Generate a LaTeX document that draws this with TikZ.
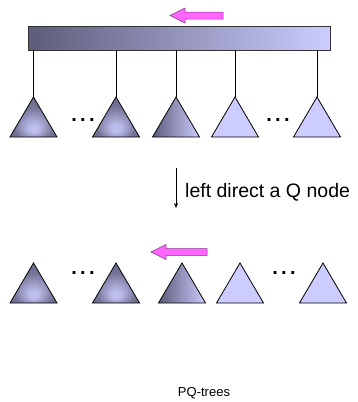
\documentclass[tikz,border=0pt]{standalone}
\usepackage{fontspec}
\setmainfont{Liberation Sans}
\usetikzlibrary{arrows.meta, positioning, calc}
\definecolor{qDark}{RGB}{92,92,122}
\definecolor{qLight}{RGB}{204,204,255}
\definecolor{qPink}{RGB}{255,102,255}
\definecolor{qPinkEdge}{RGB}{140,50,140}
% light centre around the centroid, darker towards the sides
\pgfdeclareradialshading{pyramid}{\pgfpoint{0bp}{-16bp}}{%
	color(0bp)=(qLight!90!qDark); color(5bp)=(qLight!85!qDark); color(22bp)=(qDark!80!qLight); color(50bp)=(qDark)}
\tikzset{
	qbar/.style     ={rectangle, draw=black!80, line width=0.7pt, left color=qDark, right color=qLight, minimum width=302pt, minimum height=24pt, inner sep=0pt},
	branch/.style   ={draw=black, line width=0.7pt},
	tri/.style      ={draw=black, line width=0.8pt, line join=miter},
	triflat/.style  ={tri, fill=qLight},
	tripeak/.style  ={tri, shading=pyramid},
	triside/.style  ={tri, left color=qDark, right color=qLight},
	qarrow/.style   ={draw=qPinkEdge, fill=qPink, line width=0.5pt, line join=miter},
	sig/.style      ={-{Stealth[length=5pt, width=4pt]}, line width=0.5pt},
	gap/.style      ={font=\fontsize{20}{20}\selectfont\bfseries, inner sep=0pt, anchor=base},
	% a subtree drawn as a triangle hanging from its apex
	pics/subtree/.style={code={
		\coordinate (-apex) at (0,0);
		\path[#1] (0,0) -- (23.5,40) -- (-23.5,40) -- cycle;
	}},
	% block arrow pointing left, tip at the origin
	pics/leftarrow/.style={code={
		\path[qarrow] (0,0) -- (15,-7.5) -- (15,-3.5) -- (#1,-3.5) -- (#1,3.5) -- (15,3.5) -- (15,7.5) -- cycle;
	}},
}
\begin{document}
\begin{tikzpicture}[x=1pt, y=-1pt]
	\useasboundingbox (0,0) rectangle (358,402);
	% Q node with its children
	\pic at (170,15.5) {leftarrow=53};
	\node[qbar] (q) at (179,38) {};
	\pic (t1) at (33.5,97) {subtree=tripeak};
	\pic (t2) at (116,97) {subtree=tripeak};
	\pic (t3) at (176,97) {subtree=triside};
	\pic (t4) at (235,97) {subtree=triflat};
	\pic (t5) at (317,97) {subtree=triflat};
	\node[gap] (g1) at (83,121) {.\,.\,.};
	\node[gap] (g2) at (278,121) {.\,.\,.};
	\foreach \i in {1,...,5}
		\draw[branch] (q.south -| t\i-apex) -- (t\i-apex);
	% the step
	\coordinate (s0) at (176,168);
	\coordinate (s1) at (176,208);
	\draw[sig] (s0) -- (s1);
	\node[anchor=base west, inner sep=0pt, font=\fontsize{19.5}{23}\selectfont] (lbl) at (185,197) {left direct a Q node};
	% after the direction is fixed
	\pic at (151,252) {leftarrow=56};
	\pic (b1) at (33.5,263) {subtree=tripeak};
	\pic (b2) at (116,263) {subtree=tripeak};
	\pic (b3) at (182,263) {subtree=triside};
	\pic (b4) at (240,263) {subtree=triflat};
	\pic (b5) at (323,263) {subtree=triflat};
	\node[gap] (g3) at (83,274) {.\,.\,.};
	\node[gap] (g4) at (284,274) {.\,.\,.};
	\node[font=\fontsize{13}{15}\selectfont, inner sep=0pt] (foot) at (204,393) {PQ-trees};
\end{tikzpicture}
\end{document}
